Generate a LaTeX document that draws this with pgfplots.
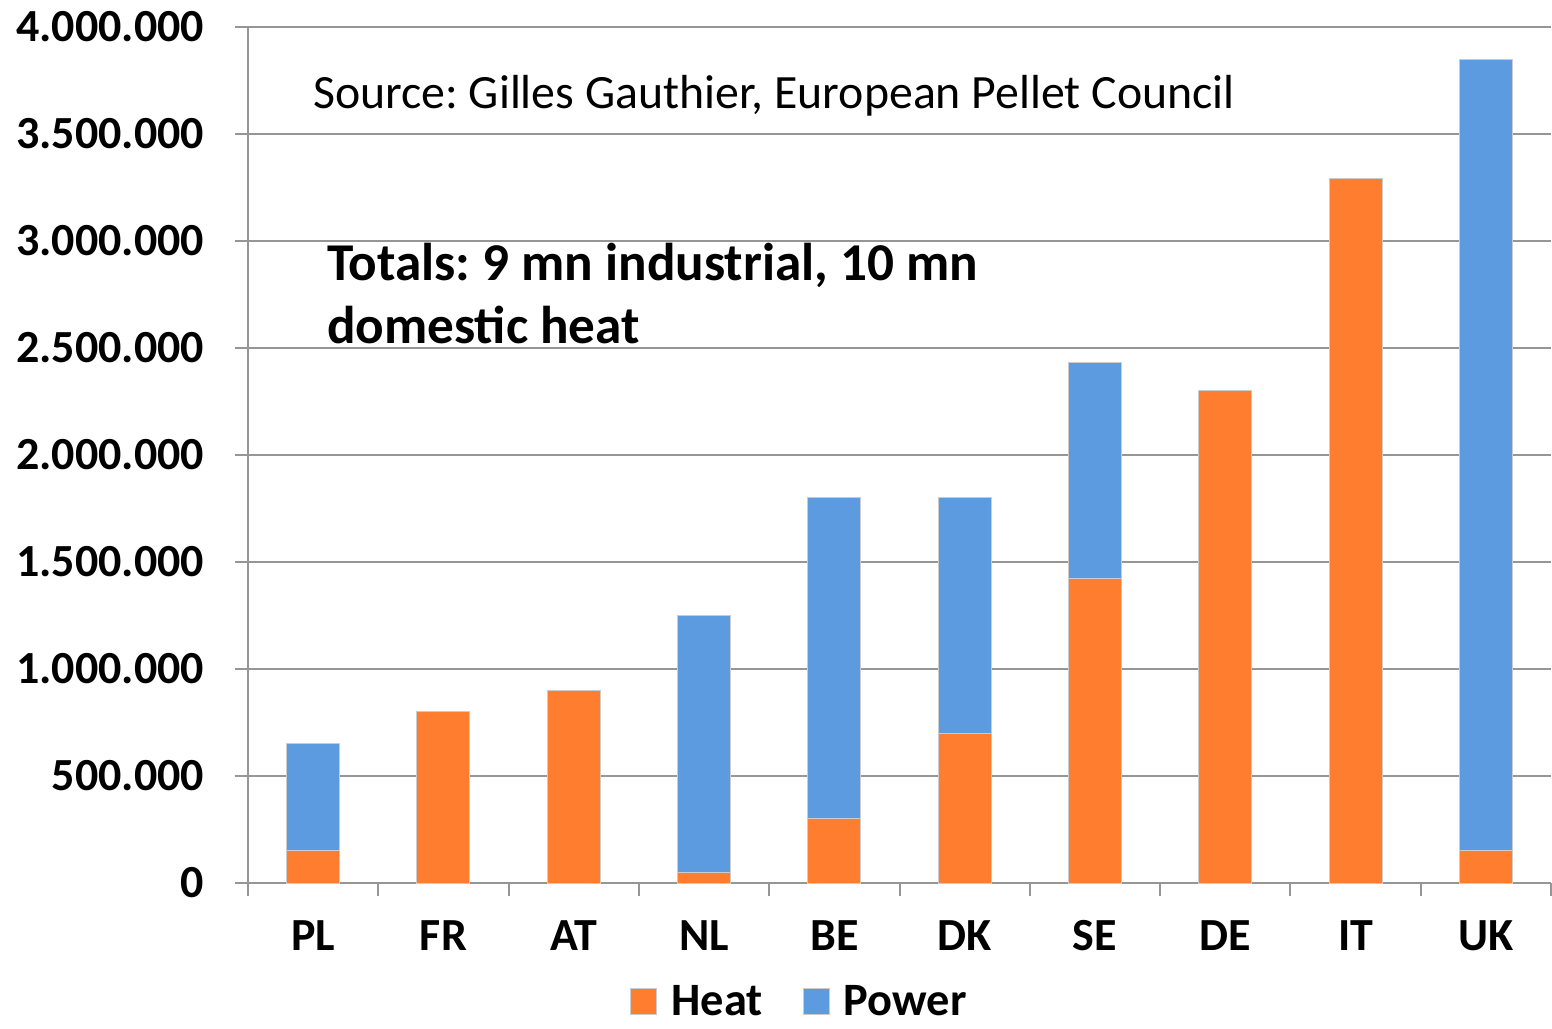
\documentclass[border=0pt]{standalone}
\usepackage{pgfplots}
\pgfplotsset{compat=1.18}
\usepackage{fontspec}
\setmainfont{Carlito}
\frenchspacing
\definecolor{heat}{RGB}{254,125,46}
\definecolor{power}{RGB}{93,155,225}
\definecolor{gridc}{RGB}{150,150,150}
\begin{document}
\begin{tikzpicture}
\useasboundingbox (-124pt,-72.5pt) rectangle (652pt,441.5pt);
\begin{axis}[
  at={(0,0)}, anchor=south west,
  scale only axis, width=651.5pt, height=428pt,
  ybar stacked, bar width=26.5pt,
  xmin=-0.5, xmax=9.5, ymin=0, ymax=4000000,
  scaled y ticks=false,
  axis x line*=bottom, axis y line*=left,
  axis line style={gridc, line width=1pt},
  ymajorgrids, grid style={gridc, line width=1pt},
  tick align=outside,
  major tick length=6.5pt,
  tick style={gridc, line width=1pt},
  xtick={-0.5,0.5,...,9.5},
  xticklabels={PL,FR,AT,NL,BE,DK,SE,DE,IT,UK,{}},
  xticklabel style={anchor=base, xshift=32.575pt, yshift=-27pt},
  ytick={0,500000,...,4000000},
  yticklabels={0,500.000,1.000.000,1.500.000,2.000.000,2.500.000,3.000.000,3.500.000,4.000.000},
  ticklabel style={font=\fontsize{23}{27}\selectfont\bfseries},
  yticklabel style={xshift=-12pt},
  legend style={at={(0.424,-0.139)}, anchor=center, draw=none, legend columns=2,
    inner sep=0pt, fill=none,
    font=\fontsize{23.2}{27}\selectfont\bfseries,
    /tikz/every even column/.append style={column sep=18pt},
    /tikz/every odd column/.append style={column sep=5pt}},
  legend image code/.code={\fill[#1] (0pt,-6.5pt) rectangle (13pt,6.5pt);},
]
\addplot[fill=heat, draw=gray!40, line width=0.5pt] coordinates {(0,150000) (1,800000) (2,900000) (3,50000) (4,300000) (5,700000) (6,1425000) (7,2300000) (8,3290000) (9,150000)};
\addplot[fill=power, draw=gray!40, line width=0.5pt] coordinates {(0,500000) (1,0) (2,0) (3,1200000) (4,1500000) (5,1100000) (6,1005000) (7,0) (8,0) (9,3700000)};
\legend{Heat,Power}
\node[anchor=base west, font=\fontsize{23.9}{28}\selectfont] at ([xshift=-3.5pt]axis description cs:0.0499,0.905) {Source: Gilles Gauthier, European Pellet Council};
\node[anchor=base west, font=\fontsize{26.6}{31}\selectfont\bfseries] at ([xshift=-4pt]axis description cs:0.0614,0.7044) {Totals: 9 mn industrial, 10 mn};
\node[anchor=base west, font=\fontsize{26.6}{31}\selectfont\bfseries] at ([xshift=-4pt]axis description cs:0.0614,0.6308) {domestic heat};
\end{axis}
\end{tikzpicture}
\end{document}
